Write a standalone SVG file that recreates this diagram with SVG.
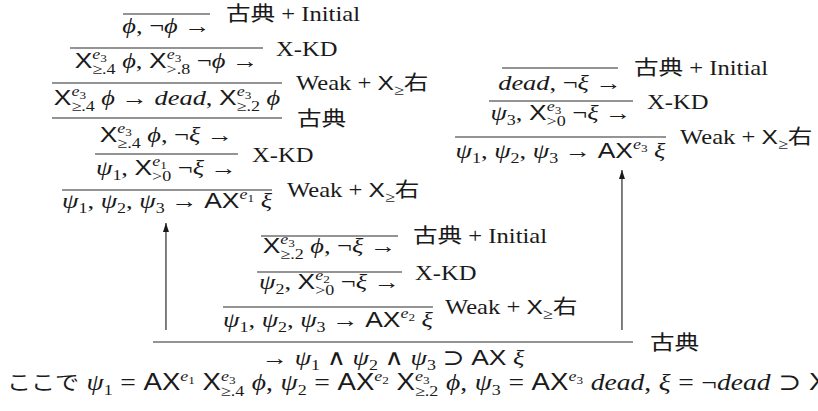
<svg xmlns="http://www.w3.org/2000/svg" width="818" height="411" viewBox="0 0 818 411">
<style>
.m{font-family:"Liberation Serif","DejaVu Serif",serif;font-size:22px;fill:#1a1a1a}
.ft{font-size:23px;word-spacing:0.6px}
.i{font-style:italic}
.sf{font-family:"Liberation Sans","DejaVu Sans",sans-serif;font-style:normal}
.sc{font-size:15px}
.ss{font-size:11px}
.lab{font-family:"Liberation Serif","Noto Sans CJK JP",serif;font-size:20.5px;fill:#1a1a1a}
.cj{font-family:"Noto Sans CJK JP",sans-serif;font-size:20px}
.rule{stroke:#2a2a2a;stroke-width:1.2;vector-effect:non-scaling-stroke}
.arr{stroke:#2a2a2a;stroke-width:1.2;fill:none;vector-effect:non-scaling-stroke;marker-end:url(#ah)}
</style>
<defs>
<marker id="ah" viewBox="0 0 9 5" refX="9" refY="2.5" markerWidth="9" markerHeight="5" markerUnits="userSpaceOnUse" orient="auto"><path d="M0,0 L9,2.5 L0,5 z" fill="#1a1a1a"/></marker>
</defs>
<rect width="818" height="411" fill="#ffffff"/>
<g transform="scale(1.2 1)">

<g id="tree-left">
<g id="L1">
<line class="rule" x1="102.5" y1="14" x2="175" y2="14"/>
<text class="lab" x="188.3" y="21.5">古典 + Initial</text>
<text class="m" x="138.75" y="33" text-anchor="middle"><tspan class="i">ϕ</tspan>, ¬<tspan class="i">ϕ</tspan> →</text>
</g>
<g id="L2">
<line class="rule" x1="58.3" y1="48" x2="219.2" y2="48"/>
<text class="lab sf" x="230" y="56.5">X-KD</text>
<text class="m" x="138.75" y="68" text-anchor="middle"><tspan class="sf">X</tspan><tspan class="i sc" dy="-9">e</tspan><tspan class="ss" dy="3">3</tspan><tspan class="sc" dx="-12.2" dy="12">≥.4</tspan><tspan dy="-6"> </tspan><tspan class="i">ϕ</tspan>, <tspan class="sf">X</tspan><tspan class="i sc" dy="-9">e</tspan><tspan class="ss" dy="3">3</tspan><tspan class="sc" dx="-12.2" dy="12">&gt;.8</tspan><tspan dy="-6"> ¬</tspan><tspan class="i">ϕ</tspan> →</text>
</g>
<g id="L3">
<line class="rule" x1="43.3" y1="83" x2="235" y2="83"/>
<text class="lab" x="246.7" y="90.5">Weak + <tspan class="sf">X</tspan><tspan class="sc" dy="5">≥</tspan><tspan dy="-5">右</tspan></text>
<text class="m" x="139.2" y="105" text-anchor="middle"><tspan class="sf">X</tspan><tspan class="i sc" dy="-9">e</tspan><tspan class="ss" dy="3">3</tspan><tspan class="sc" dx="-12.2" dy="12">≥.4</tspan><tspan dy="-6"> </tspan><tspan class="i">ϕ</tspan> → <tspan class="i">dead</tspan>, <tspan class="sf">X</tspan><tspan class="i sc" dy="-9">e</tspan><tspan class="ss" dy="3">3</tspan><tspan class="sc" dx="-12.2" dy="12">≥.2</tspan><tspan dy="-6"> </tspan><tspan class="i">ϕ</tspan></text>
</g>
<g id="L4">
<line class="rule" x1="43.3" y1="118" x2="235" y2="118"/>
<text class="lab" x="247.5" y="126.5">古典</text>
<text class="m" x="138.75" y="142" text-anchor="middle"><tspan class="sf">X</tspan><tspan class="i sc" dy="-9">e</tspan><tspan class="ss" dy="3">3</tspan><tspan class="sc" dx="-12.2" dy="12">≥.4</tspan><tspan dy="-6"> </tspan><tspan class="i">ϕ</tspan>, ¬<tspan class="i">ξ</tspan> →</text>
</g>
<g id="L5">
<line class="rule" x1="79.2" y1="154" x2="198.3" y2="154"/>
<text class="lab sf" x="210" y="162.5">X-KD</text>
<text class="m" x="138.75" y="175" text-anchor="middle"><tspan class="i">ψ</tspan><tspan class="sc" dy="5">1</tspan><tspan dy="-5">, </tspan><tspan class="sf">X</tspan><tspan class="i sc" dy="-9">e</tspan><tspan class="ss" dy="3">1</tspan><tspan class="sc" dx="-12.2" dy="12">&gt;0</tspan><tspan dy="-6"> ¬</tspan><tspan class="i">ξ</tspan> →</text>
</g>
<g id="L6">
<line class="rule" x1="51.7" y1="190" x2="226.7" y2="190"/>
<text class="lab" x="239.2" y="197.5">Weak + <tspan class="sf">X</tspan><tspan class="sc" dy="5">≥</tspan><tspan dy="-5">右</tspan></text>
<text class="m" x="139.2" y="208" text-anchor="middle"><tspan class="i">ψ</tspan><tspan class="sc" dy="5">1</tspan><tspan dy="-5">, </tspan><tspan class="i">ψ</tspan><tspan class="sc" dy="5">2</tspan><tspan dy="-5">, </tspan><tspan class="i">ψ</tspan><tspan class="sc" dy="5">3</tspan><tspan dy="-5"> → </tspan><tspan class="sf">AX</tspan><tspan class="i sc" dy="-9">e</tspan><tspan class="ss" dy="3">1</tspan><tspan dy="6"> </tspan><tspan class="i">ξ</tspan></text>
</g>
</g>

<g id="tree-middle">
<g id="M1">
<line class="rule" x1="217.5" y1="236" x2="331.7" y2="236"/>
<text class="lab" x="344.2" y="243.5">古典 + Initial</text>
<text class="m" x="274.6" y="253" text-anchor="middle"><tspan class="sf">X</tspan><tspan class="i sc" dy="-9">e</tspan><tspan class="ss" dy="3">3</tspan><tspan class="sc" dx="-12.2" dy="12">≥.2</tspan><tspan dy="-6"> </tspan><tspan class="i">ϕ</tspan>, ¬<tspan class="i">ξ</tspan> →</text>
</g>
<g id="M2">
<line class="rule" x1="214.2" y1="272" x2="335" y2="272"/>
<text class="lab sf" x="345.8" y="280.5">X-KD</text>
<text class="m" x="274.6" y="289" text-anchor="middle"><tspan class="i">ψ</tspan><tspan class="sc" dy="5">2</tspan><tspan dy="-5">, </tspan><tspan class="sf">X</tspan><tspan class="i sc" dy="-9">e</tspan><tspan class="ss" dy="3">2</tspan><tspan class="sc" dx="-12.2" dy="12">&gt;0</tspan><tspan dy="-6"> ¬</tspan><tspan class="i">ξ</tspan> →</text>
</g>
<g id="M3">
<line class="rule" x1="185.8" y1="307" x2="360.8" y2="307"/>
<text class="lab" x="370.8" y="314.5">Weak + <tspan class="sf">X</tspan><tspan class="sc" dy="5">≥</tspan><tspan dy="-5">右</tspan></text>
<text class="m" x="273.3" y="327" text-anchor="middle"><tspan class="i">ψ</tspan><tspan class="sc" dy="5">1</tspan><tspan dy="-5">, </tspan><tspan class="i">ψ</tspan><tspan class="sc" dy="5">2</tspan><tspan dy="-5">, </tspan><tspan class="i">ψ</tspan><tspan class="sc" dy="5">3</tspan><tspan dy="-5"> → </tspan><tspan class="sf">AX</tspan><tspan class="i sc" dy="-9">e</tspan><tspan class="ss" dy="3">2</tspan><tspan dy="6"> </tspan><tspan class="i">ξ</tspan></text>
</g>
</g>

<g id="tree-right">
<g id="R1">
<line class="rule" x1="418.3" y1="68" x2="515" y2="68"/>
<text class="lab" x="528.3" y="75.5">古典 + Initial</text>
<text class="m" x="466.7" y="90" text-anchor="middle"><tspan class="i">dead</tspan>, ¬<tspan class="i">ξ</tspan> →</text>
</g>
<g id="R2">
<line class="rule" x1="407.5" y1="101" x2="527.5" y2="101"/>
<text class="lab sf" x="539.2" y="109.5">X-KD</text>
<text class="m" x="467.5" y="120" text-anchor="middle"><tspan class="i">ψ</tspan><tspan class="sc" dy="5">3</tspan><tspan dy="-5">, </tspan><tspan class="sf">X</tspan><tspan class="i sc" dy="-9">e</tspan><tspan class="ss" dy="3">3</tspan><tspan class="sc" dx="-12.2" dy="12">&gt;0</tspan><tspan dy="-6"> ¬</tspan><tspan class="i">ξ</tspan> →</text>
</g>
<g id="R3">
<line class="rule" x1="379.2" y1="137" x2="555" y2="137"/>
<text class="lab" x="566.7" y="144.5">Weak + <tspan class="sf">X</tspan><tspan class="sc" dy="5">≥</tspan><tspan dy="-5">右</tspan></text>
<text class="m" x="467.1" y="158" text-anchor="middle"><tspan class="i">ψ</tspan><tspan class="sc" dy="5">1</tspan><tspan dy="-5">, </tspan><tspan class="i">ψ</tspan><tspan class="sc" dy="5">2</tspan><tspan dy="-5">, </tspan><tspan class="i">ψ</tspan><tspan class="sc" dy="5">3</tspan><tspan dy="-5"> → </tspan><tspan class="sf">AX</tspan><tspan class="i sc" dy="-9">e</tspan><tspan class="ss" dy="3">3</tspan><tspan dy="6"> </tspan><tspan class="i">ξ</tspan></text>
</g>
</g>

<g id="root">
<line class="rule" x1="127.5" y1="342" x2="527.5" y2="342"/>
<text class="lab" x="541.7" y="350.5">古典</text>
<text class="m" x="327.5" y="365" text-anchor="middle">→ <tspan class="i">ψ</tspan><tspan class="sc" dy="5">1</tspan><tspan dy="-5"> ∧ </tspan><tspan class="i">ψ</tspan><tspan class="sc" dy="5">2</tspan><tspan dy="-5"> ∧ </tspan><tspan class="i">ψ</tspan><tspan class="sc" dy="5">3</tspan><tspan dy="-5"> ⊃ </tspan><tspan class="sf">AX</tspan> <tspan class="i">ξ</tspan></text>
</g>

<g id="connectors">
<line class="arr" x1="138.3" y1="330" x2="138.3" y2="223"/>
<line class="arr" x1="518.3" y1="330" x2="518.3" y2="170"/>
</g>

<g id="footer">
<text class="m ft" x="5.8" y="390"><tspan class="cj">ここで</tspan> <tspan class="i">ψ</tspan><tspan class="sc" dy="5">1</tspan><tspan dy="-5"> = </tspan><tspan class="sf">AX</tspan><tspan class="i sc" dy="-9">e</tspan><tspan class="ss" dy="3">1</tspan><tspan dy="6"> </tspan><tspan class="sf">X</tspan><tspan class="i sc" dy="-9">e</tspan><tspan class="ss" dy="3">3</tspan><tspan class="sc" dx="-12.2" dy="12">≥.4</tspan><tspan dy="-6"> </tspan><tspan class="i">ϕ</tspan>, <tspan class="i">ψ</tspan><tspan class="sc" dy="5">2</tspan><tspan dy="-5"> = </tspan><tspan class="sf">AX</tspan><tspan class="i sc" dy="-9">e</tspan><tspan class="ss" dy="3">2</tspan><tspan dy="6"> </tspan><tspan class="sf">X</tspan><tspan class="i sc" dy="-9">e</tspan><tspan class="ss" dy="3">3</tspan><tspan class="sc" dx="-12.2" dy="12">≥.2</tspan><tspan dy="-6"> </tspan><tspan class="i">ϕ</tspan>, <tspan class="i">ψ</tspan><tspan class="sc" dy="5">3</tspan><tspan dy="-5"> = </tspan><tspan class="sf">AX</tspan><tspan class="i sc" dy="-9">e</tspan><tspan class="ss" dy="3">3</tspan><tspan dy="6"> </tspan><tspan class="i">dead</tspan>, <tspan class="i">ξ</tspan> = ¬<tspan class="i">dead</tspan> ⊃ <tspan class="sf">X</tspan><tspan class="i sc" dy="-9">e</tspan><tspan class="ss" dy="3">3</tspan><tspan class="sc" dx="-12.2" dy="12">≥</tspan></text>
</g>
</g>
</svg>
